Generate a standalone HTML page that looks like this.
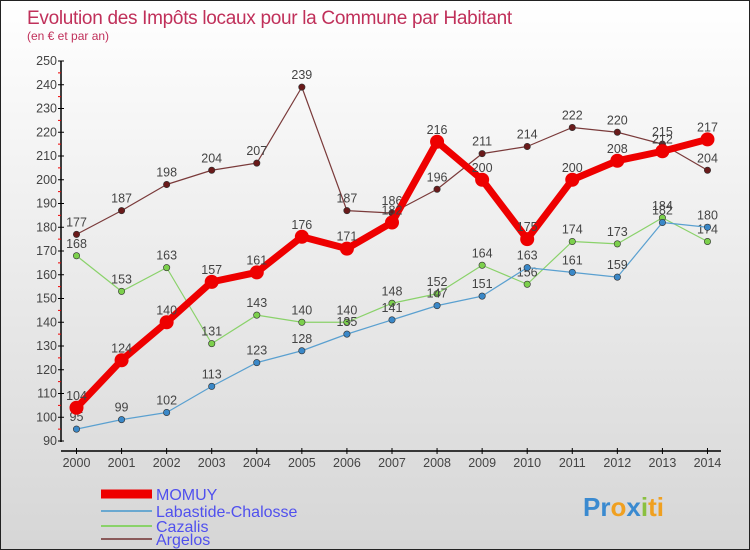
<!DOCTYPE html>
<html><head><meta charset="utf-8"><style>
body{margin:0}
#c{width:750px;height:550px;position:relative;overflow:hidden;background:linear-gradient(#ffffff,#d6d6d6);box-sizing:border-box;border:1px solid #222;font-family:"Liberation Sans",sans-serif}
</style></head><body>
<div id="c">
<svg id="s" width="750" height="550" style="position:absolute;left:0;top:0;font-family:'Liberation Sans',sans-serif">
<text x="26" y="23" font-size="19" fill="#c0305a" letter-spacing="-0.3">Evolution des Impôts locaux pour la Commune par Habitant</text>
<text x="26" y="39" font-size="12" fill="#c0305a">(en € et par an)</text>
</svg>
</div>
<script>
const years=[2000,2001,2002,2003,2004,2005,2006,2007,2008,2009,2010,2011,2012,2013,2014];
const momuy=[104,124,140,157,161,176,171,182,216,200,175,200,208,212,217];
const labastide=[95,99,102,113,123,128,135,141,147,151,163,161,159,182,180];
const cazalis=[168,153,163,131,143,140,140,148,152,164,156,174,173,184,174];
const argelos=[177,187,198,204,207,239,187,186,196,211,214,222,220,215,204];
const yTicks=[90,100,110,120,130,140,150,160,170,180,190,200,210,220,230,240,250];
const ns="http://www.w3.org/2000/svg",s=document.getElementById('s');
const X=i=>75.5+i*45.07, Y=v=>440-(v-90)*2.375;
function el(t,a,p){const e=document.createElementNS(ns,t);for(const k in a)e.setAttribute(k,a[k]);(p||s).appendChild(e);return e;}
let ax=el('line',{x1:60,y1:60,x2:60,y2:441,stroke:'#000','stroke-width':1.5});


yTicks.forEach(v=>{
 el('line',{x1:57,x2:63,y1:Y(v),y2:Y(v),stroke:'#000'});
 if(v<250) el('line',{x1:57,x2:60,y1:Y(v+5),y2:Y(v+5),stroke:'#e00'});
 let t=el('text',{x:56,y:Y(v)+4,'text-anchor':'end','font-size':12.5,fill:'#444'});t.textContent=v;
 
 
});
let xa=el('line',{x1:60,y1:450,x2:720,y2:450,stroke:'#000','stroke-width':1.5});


years.forEach((y,i)=>{
 el('line',{x1:X(i),x2:X(i),y1:447,y2:453,stroke:'#000'});
 let t=el('text',{x:X(i),y:466,'text-anchor':'middle','font-size':12.5,fill:'#444'});t.textContent=y;
 
 
});
function series(d,col,dot,w,r,name){
 let g=el('g',{});
 
 
 el('polyline',{points:d.map((v,i)=>X(i)+','+Y(v)).join(' '),fill:'none',stroke:col,'stroke-width':w,'stroke-linejoin':'round'},g);
 d.forEach((v,i)=>{
  el('circle',{cx:X(i),cy:Y(v),r:r,fill:dot,stroke:'#333','stroke-width':r>5?0:0.6},g);
  let t=el('text',{x:X(i),y:Y(v)-8,'text-anchor':'middle','font-size':12.5,fill:'#444'},g);t.textContent=v;
 });
}
series(argelos,'#7a3a3a','#6a1a1a',1.2,3.2,'series-argelos');
series(cazalis,'#8ad26a','#7cd04c',1.2,3.2,'series-cazalis');
series(labastide,'#5aa0d0','#3a88c8',1.2,3.2,'series-labastide');
series(momuy,'#ee0000','#ee0000',7,7,'series-momuy');
const leg=[['MOMUY','#ee0000',9],['Labastide-Chalosse','#6aa8d0',2],['Cazalis','#8ad26a',2],['Argelos','#8a5a5a',2]];
leg.forEach((l,i)=>{
 let y=[493,510,525,538][i];
 let g=el('g',{});
 
 
 el('line',{x1:100,x2:151,y1:y,y2:y,stroke:l[1],'stroke-width':l[2]},g);
 let t=el('text',{x:155,y:y+6,'font-size':16,fill:'#5050ee'},g);t.textContent=l[0];
});
let p=el('text',{x:582,y:515,'font-size':26,'font-weight':'bold',fill:'#f0a020'});


p.innerHTML='<tspan fill="#3a8ad0">Pr</tspan><tspan fill="#f0a020">o</tspan><tspan fill="#3a8ad0">x</tspan><tspan fill="#8ac040">i</tspan><tspan fill="#f0a020">ti</tspan>';
</script>
</body></html>
